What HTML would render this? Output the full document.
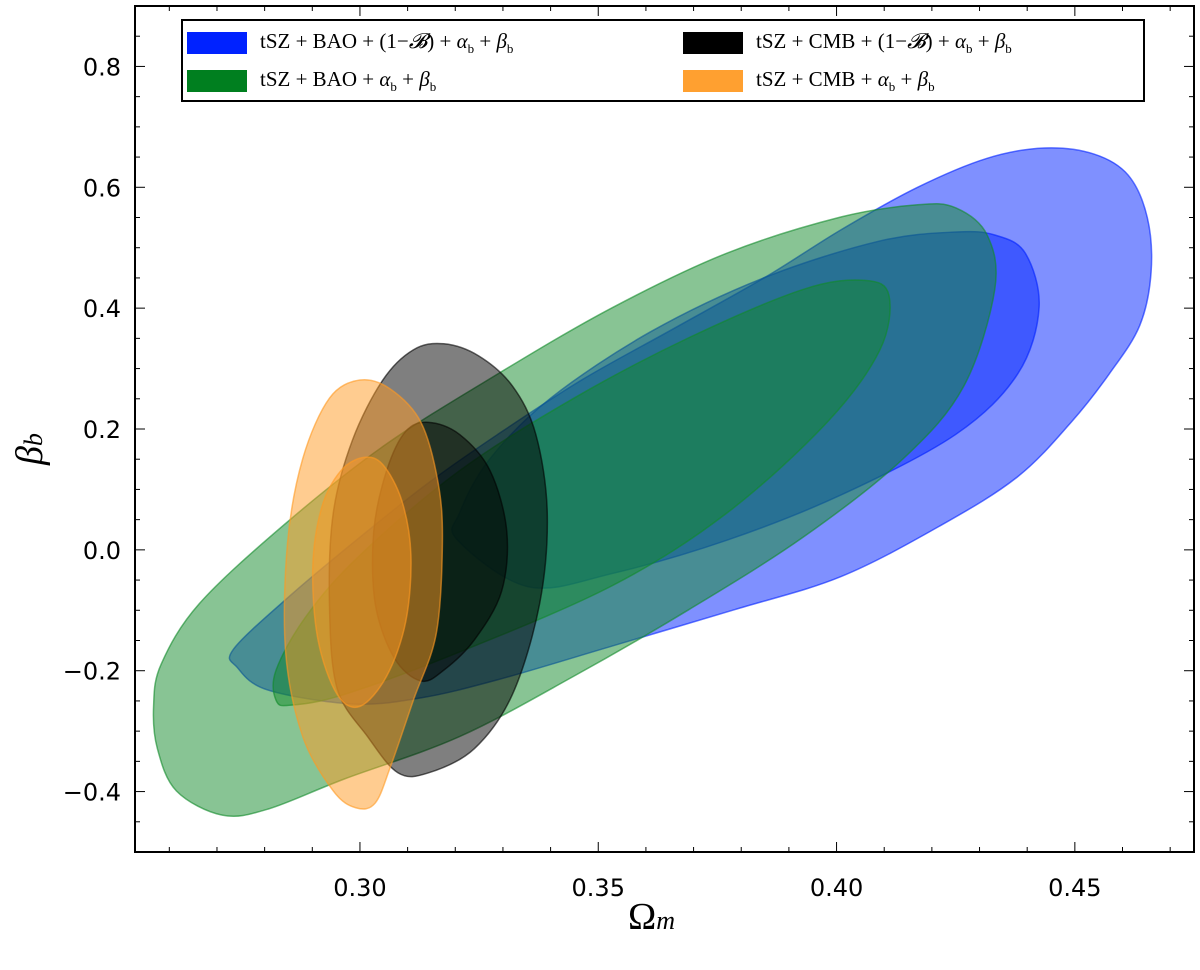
<!DOCTYPE html>
<html><head><meta charset="utf-8"><style>
body{margin:0;background:#fff;}
svg text{font-family:"DejaVu Sans","Liberation Sans",sans-serif;}
.lg{font-family:"Liberation Serif","DejaVu Serif",serif;font-size:21px;}
</style></head><body>
<svg id="chart" width="1200" height="947" xmlns="http://www.w3.org/2000/svg"></svg>
<script>
const xTicks=[0.30,0.35,0.40,0.45];
const yTicks=[-0.4,-0.2,0.0,0.2,0.4,0.6,0.8];
const blueOuter=[[0.2735,-0.164],[0.2856,-0.074],[0.30,0.021],[0.3144,0.111],[0.3289,0.191],[0.3465,0.281],[0.3658,0.366],[0.385,0.451],[0.401,0.530],[0.417,0.600],[0.4316,0.648],[0.4436,0.665],[0.454,0.655],[0.4612,0.62],[0.4652,0.55],[0.466,0.46],[0.4636,0.371],[0.4572,0.291],[0.4492,0.211],[0.438,0.121],[0.422,0.041],[0.401,-0.044],[0.3786,-0.099],[0.353,-0.159],[0.3289,-0.215],[0.3128,-0.245],[0.2984,-0.255],[0.2807,-0.232],[0.2743,-0.195]];
const blueInner=[[0.3205,0.016],[0.3353,-0.061],[0.353,-0.039],[0.377,0.016],[0.401,0.091],[0.425,0.191],[0.438,0.291],[0.4425,0.401],[0.4396,0.491],[0.4332,0.521],[0.425,0.526],[0.409,0.511],[0.385,0.451],[0.361,0.361],[0.340,0.251],[0.3273,0.151],[0.3209,0.061]];
const greenOuter=[[0.2567,-0.259],[0.2575,-0.329],[0.2615,-0.399],[0.2711,-0.439],[0.2807,-0.429],[0.2968,-0.379],[0.3209,-0.309],[0.3449,-0.209],[0.369,-0.099],[0.393,0.021],[0.414,0.151],[0.4267,0.271],[0.4332,0.431],[0.4316,0.521],[0.425,0.566],[0.417,0.571],[0.401,0.551],[0.377,0.491],[0.353,0.401],[0.3289,0.291],[0.3048,0.171],[0.284,0.041],[0.2663,-0.089],[0.2583,-0.189]];
const greenInner=[[0.2824,-0.199],[0.2824,-0.249],[0.2856,-0.257],[0.2968,-0.239],[0.3209,-0.169],[0.353,-0.059],[0.377,0.061],[0.398,0.211],[0.4091,0.331],[0.411,0.421],[0.4059,0.446],[0.393,0.431],[0.369,0.351],[0.3449,0.251],[0.3209,0.131],[0.30,-0.009],[0.2888,-0.109]];
const blackOuter=[[0.3176,0.341],[0.3249,0.321],[0.332,0.271],[0.3369,0.191],[0.3393,0.061],[0.3377,-0.089],[0.332,-0.239],[0.324,-0.329],[0.3144,-0.369],[0.308,-0.369],[0.3016,-0.309],[0.2952,-0.229],[0.2936,-0.089],[0.2944,0.061],[0.2984,0.181],[0.3048,0.281],[0.3112,0.331]];
const blackInner=[[0.3144,0.211],[0.3209,0.191],[0.3273,0.131],[0.3308,0.031],[0.3297,-0.069],[0.324,-0.149],[0.3176,-0.199],[0.3128,-0.217],[0.3072,-0.179],[0.3032,-0.089],[0.3029,0.031],[0.3056,0.131],[0.3096,0.196]];
const orangeOuter=[[0.30,0.281],[0.3064,0.266],[0.3128,0.211],[0.3164,0.111],[0.3173,0.011],[0.316,-0.139],[0.3112,-0.249],[0.3064,-0.359],[0.3032,-0.419],[0.2992,-0.427],[0.2944,-0.399],[0.288,-0.309],[0.2844,-0.169],[0.2848,0.011],[0.288,0.151],[0.2936,0.251]];
const orangeInner=[[0.3008,0.153],[0.3048,0.141],[0.3088,0.081],[0.3107,-0.009],[0.3096,-0.119],[0.3056,-0.209],[0.30,-0.259],[0.2952,-0.239],[0.2912,-0.149],[0.2901,-0.029],[0.292,0.071],[0.296,0.131]];

const L=135,R=1194,T=6,B=852,X0=0.2528,X1=0.475,Y0=-0.5,Y1=0.9;
const sx=v=>L+(v-X0)/(X1-X0)*(R-L);
const sy=v=>B-(v-Y0)/(Y1-Y0)*(B-T);
const svg=document.getElementById('chart');
const NS='http://www.w3.org/2000/svg';
function mk(t,a,p){const e=document.createElementNS(NS,t);for(const k in a)e.setAttribute(k,a[k]);(p||svg).appendChild(e);return e;}
function smooth(pts){const P=pts.map(p=>[sx(p[0]),sy(p[1])]);const n=P.length;let d='M'+P[0][0]+','+P[0][1];
for(let i=0;i<n;i++){const p0=P[(i-1+n)%n],p1=P[i],p2=P[(i+1)%n],p3=P[(i+2)%n];
d+=' C'+(p1[0]+(p2[0]-p0[0])/6)+','+(p1[1]+(p2[1]-p0[1])/6)+' '+(p2[0]-(p3[0]-p1[0])/6)+','+(p2[1]-(p3[1]-p1[1])/6)+' '+p2[0]+','+p2[1];}
return d+'Z';}
const series=[['blue',blueOuter,blueInner,'#0022ff'],['green',greenOuter,greenInner,'#118a2a'],['black',blackOuter,blackInner,'#000000'],['orange',orangeOuter,orangeInner,'#ff9922']];
series.forEach(s=>{
 let e=mk('path',{d:smooth(s[1]),fill:s[3],'fill-opacity':0.5,stroke:s[3],'stroke-opacity':0.6,'stroke-width':1.5});
 
 
 e=mk('path',{d:smooth(s[2]),fill:s[3],'fill-opacity':0.5,stroke:s[3],'stroke-opacity':0.6,'stroke-width':1.5});
 
 
});
// ticks
const tg=mk('g',{stroke:'#000','stroke-width':1});


for(let i=26;i<=47;i++){const v=i/100,x=sx(v),len=(i%5==0)?10:5;
 mk('line',{x1:x,y1:B,x2:x,y2:B-len},tg);mk('line',{x1:x,y1:T,x2:x,y2:T+len},tg);}
for(let i=-10;i<=18;i++){const v=i*0.05,y=sy(v),len=(i%4==0)?10:5;
 mk('line',{x1:L,y1:y,x2:L+len,y2:y},tg);mk('line',{x1:R,y1:y,x2:R-len,y2:y},tg);}
xTicks.forEach(v=>{const t=mk('text',{x:sx(v),y:B+44,'text-anchor':'middle','font-size':24});t.textContent=v.toFixed(2);
 });
yTicks.forEach(v=>{const t=mk('text',{x:L-14,y:sy(v)+9,'text-anchor':'end','font-size':24});t.textContent=(v<0?'\u2212':'')+Math.abs(v).toFixed(1);
 });
const fr=mk('rect',{x:L,y:T,width:R-L,height:B-T,fill:'none',stroke:'#000','stroke-width':2});

</script>
<svg width="0" height="0"></svg>
<div style="position:absolute;left:628px;top:895px;font-family:'Liberation Serif',serif;font-size:38px;">Ω<i style="font-size:26px">m</i></div>
<div style="position:absolute;left:8px;top:405px;transform:rotate(-90deg);transform-origin:30px 30px;font-family:'Liberation Serif',serif;font-size:38px;font-style:italic;">β<span style="font-size:26px">b</span></div>
<div style="position:absolute;left:181px;top:19px;width:964px;height:83px;border:2px solid #000;background:#fff;box-sizing:border-box;font-family:'Liberation Serif',serif;font-size:21px;">
 <div style="position:absolute;left:4px;top:8px;"><span style="display:inline-block;width:60px;height:22px;background:#0022ff;vertical-align:middle;margin-right:13px"></span>tSZ + BAO + (1−<i>𝓑</i>) + <i>α</i><sub style="font-size:13px">b</sub> + <i>β</i><sub style="font-size:13px">b</sub></div>
 <div style="position:absolute;left:4px;top:46px;"><span style="display:inline-block;width:60px;height:22px;background:#007f1f;vertical-align:middle;margin-right:13px"></span>tSZ + BAO + <i>α</i><sub style="font-size:13px">b</sub> + <i>β</i><sub style="font-size:13px">b</sub></div>
 <div style="position:absolute;left:500px;top:8px;"><span style="display:inline-block;width:60px;height:22px;background:#000;vertical-align:middle;margin-right:13px"></span>tSZ + CMB + (1−<i>𝓑</i>) + <i>α</i><sub style="font-size:13px">b</sub> + <i>β</i><sub style="font-size:13px">b</sub></div>
 <div style="position:absolute;left:500px;top:46px;"><span style="display:inline-block;width:60px;height:22px;background:#ffa030;vertical-align:middle;margin-right:13px"></span>tSZ + CMB + <i>α</i><sub style="font-size:13px">b</sub> + <i>β</i><sub style="font-size:13px">b</sub></div>
</div>
</body></html>
